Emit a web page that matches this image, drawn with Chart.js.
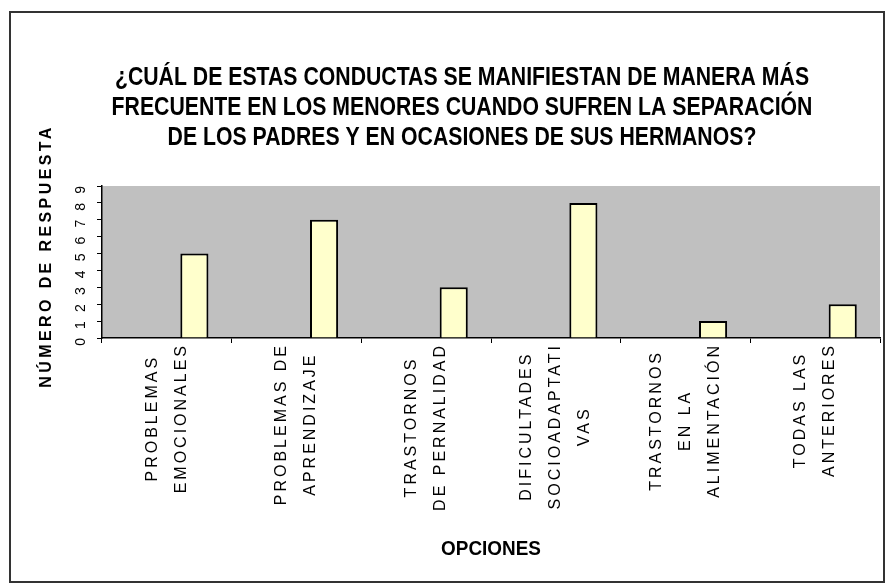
<!DOCTYPE html>
<html lang="es">
    <head>
        <meta charset="UTF-8" />
        <title>Conductas de los menores</title>
        <script src="https://cdn.jsdelivr.net/npm/chart.js"></script>
        <style>
            body { margin: 0; background: #fff; }
        </style>
    </head>
    <body>
        <canvas id="myBarChart" width="887" height="585"></canvas>

        <script>
            // data
            const categories = [
                ['PROBLEMAS', 'EMOCIONALES'],
                ['PROBLEMAS DE', 'APRENDIZAJE'],
                ['TRASTORNOS', 'DE PERNALIDAD'],
                ['DIFICULTADES', 'SOCIOADAPTATI', 'VAS'],
                ['TRASTORNOS', 'EN LA', 'ALIMENTACIÓN'],
                ['TODAS LAS', 'ANTERIORES']
            ];
            const respuestas = [5, 7, 3, 8, 1, 2];
            const emptySeries = [null, null, null, null, null, null];
            const yTicks = [0, 1, 2, 3, 4, 5, 6, 7, 8, 9];

            const titleLines = [
                '¿CUÁL DE ESTAS CONDUCTAS SE MANIFIESTAN DE MANERA MÁS',
                'FRECUENTE EN LOS MENORES CUANDO SUFREN LA SEPARACIÓN',
                'DE LOS PADRES Y EN OCASIONES DE SUS HERMANOS?'
            ];
            const yTitle = 'NÚMERO DE RESPUESTA';
            const xTitle = 'OPCIONES';

            // draws narrow text by squeezing a normal font
            function narrowText(ctx, text, x, y, sx) {
                ctx.save();
                ctx.scale(sx, 1);
                ctx.fillText(text, x / sx, y);
                ctx.restore();
            }

            // frame, gray plot area and all the texts
            const decorPlugin = {
                id: 'decor',
                beforeDraw(chart) {
                    const ctx = chart.ctx;
                    const a = chart.chartArea;
                    ctx.save();
                    ctx.fillStyle = '#ffffff';
                    ctx.fillRect(0, 0, chart.width, chart.height);
                    ctx.strokeStyle = '#333333';
                    ctx.lineWidth = 2;
                    ctx.strokeRect(10, 12, 874, 570);
                    ctx.fillStyle = '#c0c0c0';
                    ctx.fillRect(a.left, a.top, a.right - a.left, a.bottom - a.top);
                    ctx.restore();
                },
                afterDraw(chart) {
                    const ctx = chart.ctx;
                    const a = chart.chartArea;
                    const xScale = chart.scales.x;
                    ctx.save();
                    ctx.fillStyle = '#000';

                    // title
                    ctx.font = 'bold 25px "Liberation Sans", Arial, sans-serif';
                    ctx.textAlign = 'center';
                    ctx.textBaseline = 'middle';
                    titleLines.forEach((t, i) => narrowText(ctx, t, 462, 78 + i * 30, 0.85));

                    // category labels, rotated, lines centered on the longest one
                    ctx.font = '16px "Liberation Sans", Arial, sans-serif';
                    ctx.letterSpacing = '3px';
                    categories.forEach((lines, i) => {
                        const x = xScale.getPixelForValue(i);
                        const maxW = Math.max(...lines.map(l => ctx.measureText(l).width));
                        const cy = a.bottom + 5 + maxW / 2;
                        ctx.save();
                        ctx.translate(x, cy);
                        ctx.rotate(-Math.PI / 2);
                        lines.forEach((l, j) => {
                            ctx.fillText(l, 0, (j - (lines.length - 1) / 2) * 29);
                        });
                        ctx.restore();
                    });

                    // axis titles
                    ctx.font = 'bold 16px "Liberation Sans", Arial, sans-serif';
                    ctx.letterSpacing = '3.4px';
                    ctx.save();
                    ctx.translate(47, 256);
                    ctx.rotate(-Math.PI / 2);
                    ctx.fillText(yTitle, 0, 0);
                    ctx.restore();

                    ctx.letterSpacing = '0px';
                    ctx.font = 'bold 21px "Liberation Sans", Arial, sans-serif';
                    narrowText(ctx, xTitle, (a.left + a.right) / 2, 549, 0.9);
                    ctx.restore();
                }
            };

            var ctx = document.getElementById('myBarChart').getContext('2d');
            var chart = new Chart(ctx, {
                type: 'bar',
                data: {
                    labels: categories,
                    datasets: [
                        {
                            // hidden first series, keeps the bar on the right half
                            data: emptySeries,
                            backgroundColor: '#9999ff'
                        },
                        {
                            data: respuestas,
                            backgroundColor: '#ffffcc',
                            borderColor: '#000000',
                            borderWidth: 2
                        }
                    ]
                },
                options: {
                    responsive: false,
                    animation: false,
                    events: [],
                    layout: {
                        padding: { left: 0, right: 7, top: 186, bottom: 0 }
                    },
                    plugins: {
                        legend: { display: false },
                        tooltip: { enabled: false }
                    },
                    datasets: {
                        bar: {
                            categoryPercentage: 0.85,
                            barPercentage: 0.51
                        }
                    },
                    scales: {
                        x: {
                            afterFit: (scale) => { scale.height = 247; },
                            ticks: { display: false },
                            grid: {
                                drawOnChartArea: false,
                                color: '#000',
                                tickLength: 5,
                                tickColor: '#000'
                            },
                            border: { color: '#000', width: 1.5 }
                        },
                        y: {
                            min: 0,
                            max: 9,
                            afterFit: (scale) => { scale.width = 102; },
                            afterBuildTicks: (scale) => {
                                scale.ticks = yTicks.map(v => ({ value: v }));
                            },
                            ticks: {
                                color: '#000',
                                padding: 16,
                                minRotation: 90,
                                maxRotation: 90,
                                font: { size: 14, family: '"Liberation Sans", Arial, sans-serif' }
                            },
                            grid: {
                                drawOnChartArea: false,
                                color: '#000',
                                tickLength: 5,
                                tickColor: '#000'
                            },
                            border: { color: '#000', width: 1.5 }
                        }
                    }
                },
                plugins: [decorPlugin]
            });
        </script>
    </body>
</html>
